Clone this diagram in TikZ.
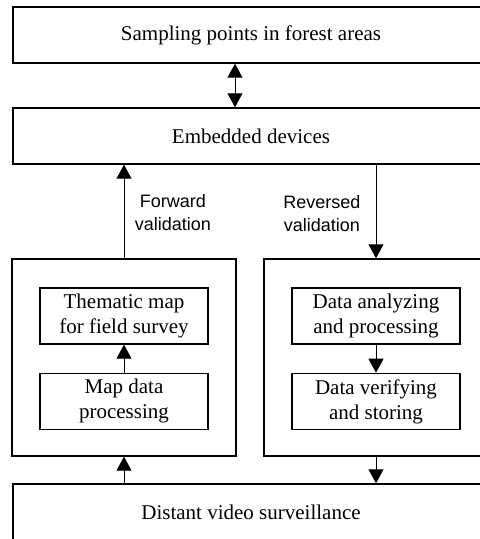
\documentclass[tikz,border=0pt]{standalone}
\usepackage{fontspec}
\setmainfont{Liberation Serif}
\setsansfont{Liberation Sans}
\usepackage{tikz}
\usetikzlibrary{arrows.meta,positioning,calc}

\begin{document}
\begin{tikzpicture}[
        x=1pt, y=-1pt,
        font=\fontsize{21}{25}\selectfont,
        wide/.style={
            draw, line width=1.4pt,
            minimum width=476pt, minimum height=56pt, inner sep=0pt
        },
        panel/.style={
            draw, line width=1.4pt,
            minimum width=224pt, minimum height=197pt, inner sep=0pt
        },
        task/.style={
            draw, line width=1.4pt,
            minimum width=168pt, minimum height=56pt, inner sep=0pt,
            align=center
        },
        link/.style={-{Triangle[length=14pt,width=15pt]}, line width=1pt},
        duplex/.style={{Triangle[length=14pt,width=15pt]}-{Triangle[length=14pt,width=15pt]}, line width=1pt},
        note/.style={font=\sffamily\fontsize{18}{23}\selectfont, align=center}
    ]

    \clip (0,0) rectangle (480,539);

    % Outer layers
    \node[wide] (sampling) at (251,35) {Sampling points in forest areas};
    \node[wide] (embedded) at (251,136) {Embedded devices};
    \node[panel] (mapside) at (124,357.5) {};
    \node[panel] (dataside) at (376,357.5) {};
    \node[wide, minimum height=56pt] (distant) at (251,512) {Distant video surveillance};

    % Inner steps
    \node[task] (thematic) at (124,316) {Thematic map\\for field survey};
    \node[task, below=28pt of thematic] (mapdata) {Map data\\processing};
    \node[task] (analyzing) at (376,316) {Data analyzing\\and processing};
    \node[task, below=28pt of analyzing] (verifying) {Data verifying\\and storing};

    % Links between layers
    \draw[duplex] ([xshift=-16pt]sampling.south) -- ([xshift=-16pt]embedded.north);
    \draw[link] (mapside.north) -- (mapside.north |- embedded.south);
    \draw[link] (dataside.north |- embedded.south) -- (dataside.north);
    \draw[link] (mapdata) -- (thematic);
    \draw[link] (analyzing) -- (verifying);
    \draw[link] (mapside.south |- distant.north) -- (mapside.south);
    \draw[link] (dataside.south) -- (dataside.south |- distant.north);

    % Labels
    \node[note] (fwd) at (173,213) {Forward\\validation};
    \node[note] (rev) at (322,214) {Reversed\\validation};

\end{tikzpicture}
\end{document}
